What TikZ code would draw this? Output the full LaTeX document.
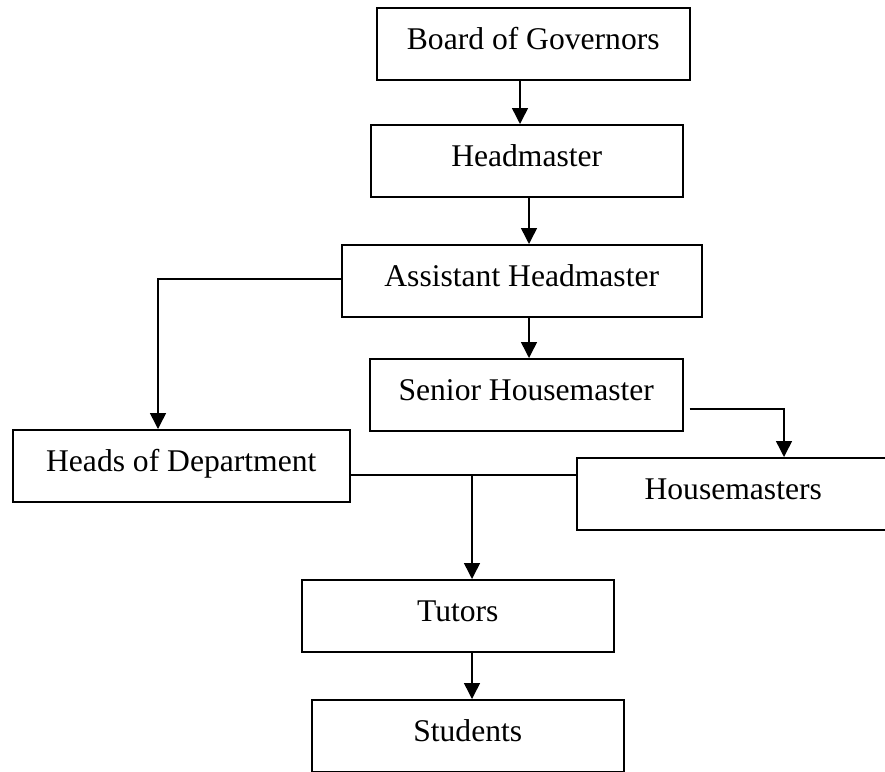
\documentclass[tikz,border=0pt]{standalone}
\usepackage{fontspec}
\setmainfont{Liberation Serif}
\usetikzlibrary{arrows.meta}
\begin{document}
\begin{tikzpicture}[x=1pt,y=-1pt,
  box/.style={draw=black,line width=1.5pt,rectangle,inner xsep=0pt,inner ysep=0pt,
    text height=42pt,text depth=30pt,anchor=north west,
    font=\fontsize{31.6pt}{36pt}\selectfont},
  arr/.style={line width=1.5pt,-{Triangle[width=16pt,length=16pt]}},
  ln/.style={line width=1.5pt}]
\clip (0,0) rectangle (885,771);
\useasboundingbox (0,0) rectangle (885,771);
\node[box,minimum width=313pt] (bog) at (376,7) {Board of Governors};
\node[box,minimum width=312pt] (hm) at (370,124) {Headmaster};
\node[box,minimum width=360pt] (ahm) at (341,244) {Assistant Headmaster};
\node[box,minimum width=313pt] (shm) at (369,358) {Senior Housemaster};
\node[box,minimum width=337pt] (hod) at (12,429) {Heads of Department};
\node[box,minimum width=313pt] (hms) at (576,457) {Housemasters};
\node[box,minimum width=312pt] (tut) at (301,579) {Tutors};
\node[box,minimum width=312pt] (stu) at (311,699) {Students};
% vertical arrows
\draw[arr] ([xshift=144pt]bog.south west) -- ([xshift=150pt]hm.north west);
\draw[arr] ([xshift=159pt]hm.south west) -- ([xshift=188pt]ahm.north west);
\draw[arr] ([xshift=188pt]ahm.south west) -- ([xshift=160pt]shm.north west);
% assistant -> heads of department
\draw[arr] ([yshift=-35pt]ahm.north west) -| ([xshift=146pt]hod.north west);
% senior -> housemasters
\draw[arr] ([xshift=6pt,yshift=-51pt]shm.north east) -| ([xshift=208pt]hms.north west);
% heads of dept -- housemasters, down to tutors
\draw[ln] ([yshift=-46pt]hod.north east) -- ([yshift=-18pt]hms.north west);
\coordinate (j) at (472,475);
\draw[arr] (j) -- (j |- tut.north);
\draw[arr] ([xshift=171pt]tut.south west) -- ([xshift=161pt]stu.north west);
\end{tikzpicture}
\end{document}
